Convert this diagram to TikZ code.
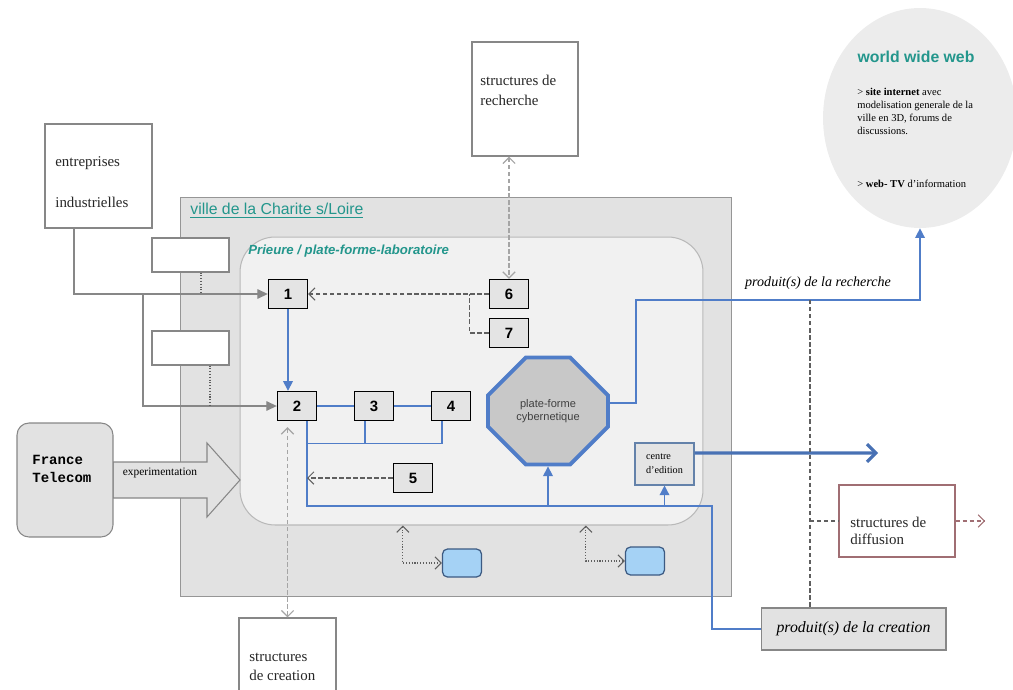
\documentclass[tikz,border=0pt]{standalone}
\usepackage{fontspec}
\setmainfont{Liberation Serif}
\setsansfont{Liberation Sans}
\setmonofont{Liberation Mono}
\usetikzlibrary{shapes.geometric,shapes.misc,arrows.meta}
\definecolor{tealtext}{RGB}{35,150,140}
\definecolor{bluelink}{RGB}{80,125,200}
\definecolor{villefill}{RGB}{226,226,226}
\definecolor{villeline}{RGB}{150,150,150}
\definecolor{prieurefill}{RGB}{241,241,241}
\definecolor{prieureline}{RGB}{185,185,185}
\definecolor{cellfill}{RGB}{228,228,228}
\definecolor{octafill}{RGB}{200,200,200}
\definecolor{padfill}{RGB}{165,210,245}
\definecolor{padline}{RGB}{60,90,130}
\definecolor{greyline}{RGB}{135,135,135}
\definecolor{darkline}{RGB}{95,95,95}
\definecolor{lightline}{RGB}{165,165,165}
\definecolor{diffline}{RGB}{160,110,115}
\definecolor{wwwfill}{RGB}{236,236,236}
\definecolor{editline}{RGB}{100,130,170}
\tikzset{
    villebox/.style={draw=villeline, fill=villefill, line width=0.6pt, minimum width=11.04cm, minimum height=8cm, inner sep=0pt},
    prieurebox/.style={draw=prieureline, fill=prieurefill, line width=0.6pt, rounded corners=0.7cm, minimum width=9.26cm, minimum height=5.76cm, inner sep=0pt},
    whitebox/.style={draw=greyline, fill=white, line width=0.6pt, inner sep=0pt},
    numcell/.style={draw=black, line width=0.8pt, fill=cellfill, minimum width=0.78cm, minimum height=0.58cm, inner sep=0pt, font=\sffamily\bfseries\fontsize{8.5}{10}\selectfont},
    bluepad/.style={draw=padline, fill=padfill, line width=0.7pt, rounded corners=0.1cm, minimum width=0.78cm, minimum height=0.56cm, inner sep=0pt},
    serifnote/.style={font=\fontsize{8.5}{10}\selectfont, text=black!85, inner sep=0pt, align=left},
    greywire/.style={draw=greyline, line width=0.6pt},
    bluewire/.style={draw=bluelink, line width=0.8pt},
    darkdash/.style={draw=darkline, line width=0.6pt, dash pattern=on 2.5pt off 1.5pt},
    lightdash/.style={draw=lightline, line width=0.7pt, dash pattern=on 2.5pt off 1.5pt},
    darkdot/.style={draw=darkline, line width=0.6pt, densely dotted},
    greyhead/.style={-{Triangle[length=6pt,width=5.5pt]}},
    bluehead/.style={-{Triangle[length=5.5pt,width=5.5pt]}},
    openhead/.style={-{Straight Barb[length=3.5pt,width=7pt]}},
    twoheads/.style={{Straight Barb[length=3.5pt,width=7pt]}-{Straight Barb[length=3.5pt,width=7pt]}}
}
\begin{document}
\begin{tikzpicture}[x=0.02cm, y=-0.02cm]
        \useasboundingbox (0,0) rectangle (1013,689);
        \clip (0,0) rectangle (1013,689);
        \node (ville) [villebox] at (456,397) {};
        \node (villetitle) [anchor=west, inner sep=0pt, text=tealtext, font=\sffamily\fontsize{9}{11}\selectfont] at (190,211) {\underline{ville de la Charite s/Loire}};
        \node (ent) [whitebox, minimum width=2.14cm, minimum height=2.08cm] at (98.5,176) {};
        \node (entA) [serifnote, anchor=west] at (55,163) {entreprises};
        \node (entB) [serifnote, anchor=west] at (55,202) {industrielles};
        \node (blankA) [whitebox, minimum width=1.54cm, minimum height=0.68cm] at (190.5,255) {};
        \node (blankB) [whitebox, minimum width=1.54cm, minimum height=0.68cm] at (190.5,348) {};
        \node (prieure) [prieurebox] at (471.5,381) {};
        \node (prieuretitle) [anchor=west, inner sep=0pt, text=tealtext, font=\sffamily\bfseries\itshape\fontsize{7.5}{9}\selectfont] at (248,251) {Prieure / plate-forme-laboratoire};
        \node (lab1) [numcell] at (288,294) {1};
        \node (lab2) [numcell] at (297,406) {2};
        \node (lab3) [numcell] at (374,406) {3};
        \node (lab4) [numcell] at (451,406) {4};
        \node (lab5) [numcell] at (413,478) {5};
        \node (lab6) [numcell] at (509,294) {6};
        \node (lab7) [numcell] at (509,333) {7};
        \node (cyber) [chamfered rectangle, chamfered rectangle xsep=0.52cm, chamfered rectangle ysep=0.52cm, draw=bluelink, line width=2.2pt, fill=octafill, minimum width=2.4cm, minimum height=2.14cm, inner sep=0pt, align=center, text=black!75, font=\sffamily\fontsize{6.3}{7.6}\selectfont] at (548,411) {plate-forme\\cybernetique};
        \node (edition) [draw=editline, line width=0.6pt, fill=cellfill, minimum width=1.18cm, minimum height=0.84cm, inner sep=0pt, align=left, font=\fontsize{5.8}{8}\selectfont] at (664.5,464) {centre\\d'edition};
        \node (padA) [bluepad] at (462,563) {};
        \node (padB) [bluepad] at (645,561) {};
        \draw [fill=villefill, draw=greyline, line width=0.6pt] (113,462) -- (207,462) -- (207,443) -- (240,480) -- (207,517) -- (207,498) -- (113,498) -- cycle;
        \node (experim) [inner sep=0pt, font=\fontsize{6.5}{8}\selectfont] at (160,473) {experimentation};
        \node (telecom) [draw=greyline, fill=villefill, line width=0.6pt, rounded corners=0.24cm, minimum width=1.92cm, minimum height=2.28cm] at (65,480) {};
        \node (telecomtxt) [anchor=west, inner sep=0pt, align=left, font=\ttfamily\bfseries\fontsize{8}{10.2}\selectfont] at (32,469) {France\\Telecom};
        \node (rech) [whitebox, minimum width=2.12cm, minimum height=2.28cm] at (525,99) {};
        \node (rechtxt) [serifnote, anchor=west, font=\fontsize{8.5}{11.3}\selectfont] at (480,90) {structures de\\recherche};
        \node (creat) [whitebox, minimum width=1.94cm, minimum height=2.04cm] at (287.5,669) {};
        \node (creattxt) [serifnote, anchor=west, font=\fontsize{8.5}{10.8}\selectfont] at (249,666.5) {structures\\de creation};
        \node (diff) [draw=diffline, fill=white, line width=0.6pt, minimum width=2.32cm, minimum height=1.44cm, inner sep=0pt] at (897,521) {};
        \node (difftxt) [serifnote, anchor=west, font=\fontsize{8.5}{9.6}\selectfont] at (850,530.5) {structures de\\diffusion};
        \node (prodcrea) [draw=greyline, fill=villefill, line width=0.6pt, minimum width=3.7cm, minimum height=0.84cm, inner sep=0pt, font=\itshape\fontsize{9}{11}\selectfont] at (853.5,629) {produit(s)\ de la creation};
        \node (prodrech) [inner sep=0pt, font=\itshape\fontsize{8}{10}\selectfont] at (818,283) {produit(s) de la recherche};
        \node (www) [ellipse, fill=wwwfill, minimum width=3.88cm, minimum height=4.4cm, inner sep=0pt] at (920,118) {};
        \node (wwwtitle) [inner sep=0pt, text=tealtext, font=\sffamily\bfseries\fontsize{9}{11}\selectfont] at (916,57) {world wide web};
        \node (wwwtxt) [anchor=north west, inner sep=0pt, align=left, font=\fontsize{6}{7.4}\selectfont] at (857,88) {> \textbf{site internet} avec\\modelisation generale de la\\ville en 3D, forums de\\discussions.};
        \node (wwwtv) [anchor=west, inner sep=0pt, font=\fontsize{6}{7.4}\selectfont] at (857,184) {> \textbf{web- TV} d'information};
        \coordinate (entfoot) at (74,228);
        \coordinate (fork) at (143,294);
        \draw [greywire, greyhead] (entfoot) |- (lab1.west);
        \draw [greywire, greyhead] (fork) |- (lab2.west);
        \draw [darkdot] ([xshift=0.21cm]blankA.south) -- ([xshift=0.21cm]blankA.south |- lab1.west);
        \draw [darkdot] ([xshift=0.39cm]blankB.south) -- ([xshift=0.39cm]blankB.south |- lab2.west);
        \draw [bluewire, bluehead] (lab1.south) -- (lab1.south |- lab2.north);
        \draw [bluewire] (lab2) -- (lab3) -- (lab4);
        \coordinate (busL) at ([xshift=0.2cm]lab2.south);
        \coordinate (busR) at (712,506);
        \draw [bluewire] (busL) |- (busR) |- (prodcrea.west);
        \draw [bluewire] ([xshift=-0.18cm]lab4.south) -- ++(0,22) -| (busL);
        \draw [bluewire] ([xshift=-0.18cm]lab3.south) -- ++(0,22);
        \draw [bluewire, bluehead] (cyber.south |- busR) -- (cyber.south);
        \draw [bluewire, bluehead] (edition.south |- busR) -- (edition.south);
        \draw [darkdash, openhead] (lab5.west) -- (lab5.west -| busL);
        \draw [darkdash, openhead] (lab6.west) -- (lab1.east);
        \draw [darkdash] (lab7.west) -| ([xshift=-0.38cm]lab6.west);
        \draw [lightdash, twoheads] (lab6.north |- rech.south) -- (lab6.north);
        \draw [lightdash, twoheads] ([yshift=-0.12cm]creat.north |- lab2.south) -- (creat.north);
        \draw [darkdot, twoheads] ([xshift=-0.78cm]padA.west |- prieure.south) |- (padA.west);
        \draw [darkdot, twoheads] ([xshift=-0.78cm]padB.west |- prieure.south) |- (padB.west);
        \coordinate (rechlevel) at (636,300);
        \draw [bluewire, bluehead] ([yshift=0.16cm]cyber.east) -| (rechlevel) -| (www.south);
        \coordinate (editout) at (878,453);
        \draw [draw=bluelink!90!black, line width=1.8pt, -{Straight Barb[length=5pt,width=10pt]}] ([yshift=0.22cm]edition.east) -- (editout);
        \coordinate (diffx) at (810,300);
        \draw [darkdash] (diffx) -- (diffx |- prodcrea.north);
        \draw [darkdash] (diffx |- diff.west) -- (diff.west);
        \coordinate (diffout) at (985,521);
        \draw [draw=diffline, line width=0.6pt, dash pattern=on 2.5pt off 1.5pt, openhead] (diff.east) -- (diffout);
\end{tikzpicture}
\end{document}
